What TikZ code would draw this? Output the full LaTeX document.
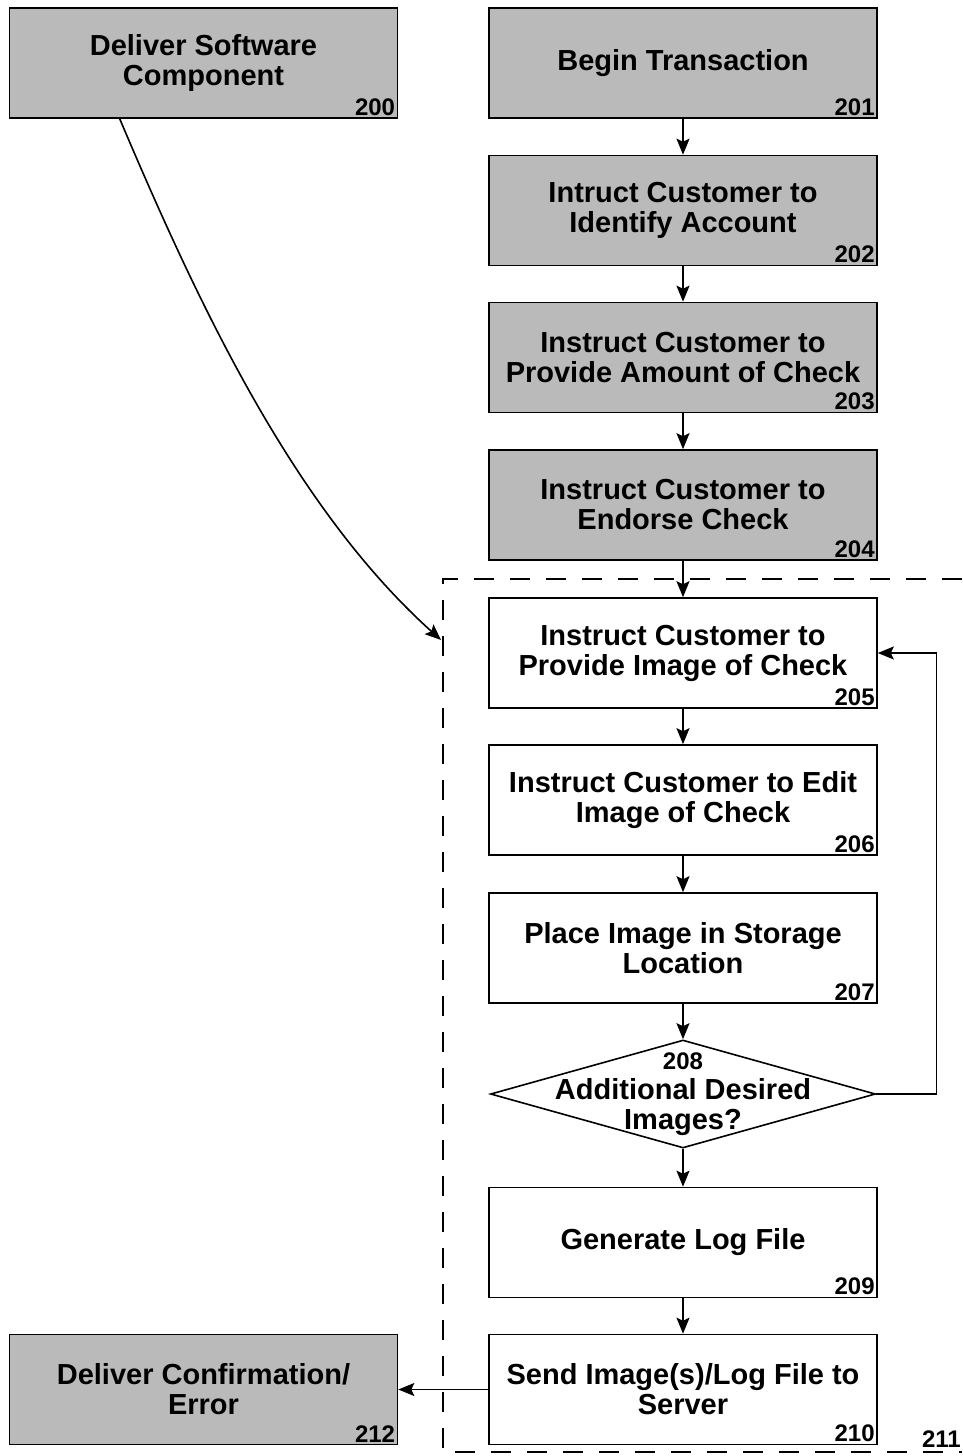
\documentclass[tikz,border=0pt]{standalone}
\usepackage{fontspec}
\setmainfont{Liberation Sans}
\usetikzlibrary{shapes.geometric,arrows.meta}

\tikzset{
	box/.style={draw,line width=1.6pt,minimum width=388pt,minimum height=110pt,
		align=center,inner sep=0pt,font=\fontsize{29}{30}\selectfont\bfseries},
	shadedbox/.style={box,fill=black!27},
	num/.style={font=\fontsize{24}{24}\selectfont\bfseries,inner sep=3pt},
	decision/.style={draw,diamond,line width=1.6pt,minimum width=385pt,
		minimum height=108pt,inner sep=0pt},
	flow/.style={-{Stealth[length=16pt,width=13pt,inset=3pt]},line width=1.6pt},
	frame/.style={line width=1.6pt,dash pattern=on 20pt off 16pt},
}

\begin{document}
\begin{tikzpicture}[x=1pt,y=-1pt]
	\useasboundingbox (0,0) rectangle (962,1456);
	% left column
	\node[shadedbox,label={[num,anchor=south east]south east:200}] (b200) at (203.5,63) {Deliver Software\\Component};
	\node[shadedbox,label={[num,anchor=south east]south east:212}] (b212) at (203.5,1389.5) {Deliver Confirmation/\\Error};
	% main column
	\node[shadedbox,label={[num,anchor=south east]south east:201}] (b201) at (683,63) {Begin Transaction};
	\node[shadedbox,label={[num,anchor=south east]south east:202}] (b202) at (683,210.5) {Intruct Customer to\\Identify Account};
	\node[shadedbox,label={[num,anchor=south east]south east:203}] (b203) at (683,357.5) {Instruct Customer to\\Provide Amount of Check};
	\node[shadedbox,label={[num,anchor=south east]south east:204}] (b204) at (683,505) {Instruct Customer to\\Endorse Check};
	\node[box,label={[num,anchor=south east]south east:205}] (b205) at (683,653) {Instruct Customer to\\Provide Image of Check};
	\node[box,label={[num,anchor=south east]south east:206}] (b206) at (683,800) {Instruct Customer to Edit\\Image of Check};
	\node[box,label={[num,anchor=south east]south east:207}] (b207) at (683,948) {Place Image in Storage\\Location};
	\node[decision,label={[align=center,font=\fontsize{29}{30}\selectfont\bfseries]center:{{\fontsize{24}{27}\selectfont 208}\\Additional Desired\\Images?}}] (d208) at (683,1094) {};
	\node[box,label={[num,anchor=south east]south east:209}] (b209) at (683,1242.5) {Generate Log File};
	\node[box,label={[num,anchor=south east]south east:210}] (b210) at (683,1389.5) {Send Image(s)/Log File to\\Server};
	% dashed frame 211
	\coordinate (f1) at (962,579);
	\coordinate (f2) at (443,579);
	\coordinate (f3) at (443,1452);
	\coordinate (f4) at (962,1452);
	\draw[frame] (f1) -- (f2) -- (f3) -- (f4);
	\node[num,anchor=south east,inner sep=1pt] (l211) at (962,1449) {211};
	% connectors
	\foreach \a/\b in {b201/b202,b202/b203,b203/b204,b204/b205,b205/b206,b206/b207,b207/d208,d208/b209,b209/b210}
		\draw[flow] (\a) -- (\b);
	\draw[flow] (d208.east) -- ++(60,0) |- (b205.east);
	\draw[flow] (b210) -- (b212);
	\coordinate (entry) at (441,640);
	\draw[flow] ([xshift=111pt]b200.south west) .. controls +(67:200) and +(-138:200) .. (entry);
\end{tikzpicture}
\end{document}
